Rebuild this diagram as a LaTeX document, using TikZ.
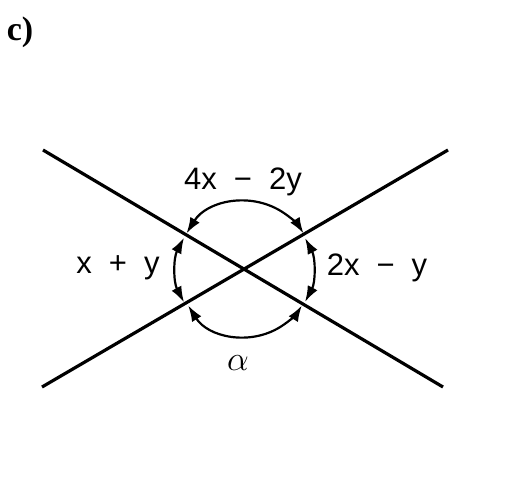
\documentclass[tikz,border=0pt]{standalone}
\usepackage{fontspec}
\setmainfont{Liberation Serif}
\setsansfont{Liberation Sans}
\usetikzlibrary{arrows.meta}
\newcommand{\gp}{\hspace{0.55em}}
\begin{document}
\begin{tikzpicture}[x=0.5pt, y=0.5pt,
    lbl/.style={font=\sffamily\fontsize{15.5}{17}\selectfont},
    anglearc/.style={line width=1.1pt, {Latex[length=8pt,width=5.5pt]}-{Latex[length=8pt,width=5.5pt]}}]
            \useasboundingbox (-245,-211) rectangle (262,270);
            \coordinate (O) at (0,0);
            \coordinate (nw) at (-202,120);
            \coordinate (se) at (198,-117);
            \coordinate (sw) at (-203,-117);
            \coordinate (ne) at (203,120);
            \draw[line width=1.6pt] (nw) -- (se);
            \draw[line width=1.6pt] (sw) -- (ne);
            \draw[anglearc] (O) ++(148:69) arc (148:32:69);
            \draw[anglearc] (O) ++(152:69) arc (152:208:69);
            \draw[anglearc] (O) ++(212:67) arc (212:328:67);
            \draw[anglearc] (O) ++(28:68) arc (28:-28:68);
            \node[lbl] (top) at (-2,88) {4x\gp−\gp2y};
            \node[lbl] (left) at (-127,2) {x\gp+\gp y};
            \node[lbl] (right) at (132,2) {2x\gp−\gp y};
            \node[font=\fontsize{17}{19}\selectfont] (bottom) at (-7,-93) {$\alpha$};
            \node[font=\bfseries\fontsize{17}{19}\selectfont] (tag) at (-225,238) {c)};
        \end{tikzpicture}
\end{document}
